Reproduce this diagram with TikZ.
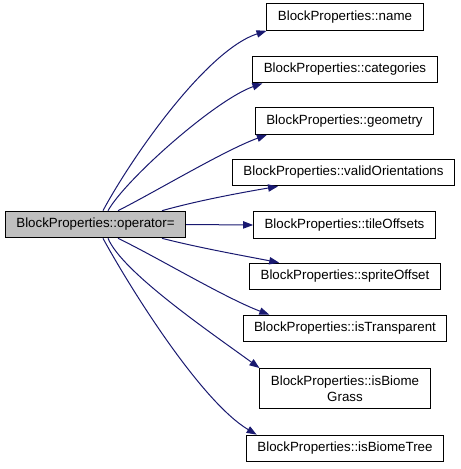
\documentclass[tikz,border=0pt]{standalone}
\usepackage{fontspec}
\setmainfont{Liberation Sans}
\usetikzlibrary{arrows.meta}
\definecolor{edgeblue}{HTML}{191970}
\definecolor{callerfill}{HTML}{BFBFBF}
\tikzset{
  fnbox/.style={draw=black,line width=0.75pt,fill=white,inner xsep=8.2pt,
    inner ysep=5.3pt,minimum height=20pt,align=center,
    font=\fontsize{10}{12}\selectfont},
  caller/.style={fnbox,fill=callerfill},
  callee/.style={fnbox},
  call/.style={-{Triangle[length=7.5pt,width=5.5pt]},draw=edgeblue,line width=0.75pt}
}

\begin{document}
\begin{tikzpicture}[x=0.75pt,y=-0.75pt]
\useasboundingbox (0,0) rectangle (461,469);

% Caller on the left
\node[caller] (op) at (95.5,224.5) {BlockProperties::operator=};

% Callees, stacked on the right
\node[callee] (name) at (345,17) {BlockProperties::name};
\node[callee] (categories) at (345,69.5) {BlockProperties::categories};
\node[callee] (geometry) at (344.5,121) {BlockProperties::geometry};
\node[callee] (validOrient) at (343.5,172.5) {BlockProperties::validOrientations};
\node[callee] (tileOffsets) at (344.5,225) {BlockProperties::tileOffsets};
\node[callee] (spriteOffset) at (345,276.5) {BlockProperties::spriteOffset};
\node[callee] (isTransparent) at (345,328.5) {BlockProperties::isTransparent};
\node[callee] (isBiomeGrass) at (345,388.5) {BlockProperties::isBiome\\Grass};
\node[callee] (isBiomeTree) at (345,448.5) {BlockProperties::isBiomeTree};

% Calls upward
\draw[call] ([xshift=5.6pt]op.north) .. controls (133,155) and (207,50) .. (name.south west);
\draw[call] ([xshift=9.4pt]op.north) .. controls (125,180) and (215,100) .. ([xshift=7.5pt]categories.south west);
\draw[call] ([xshift=16.9pt]op.north) .. controls (155,192) and (225,150) .. ([xshift=9pt]geometry.south west);
\draw[call] ([xshift=49.9pt]op.north) .. controls (200,200) and (245,192) .. ([xshift=34.5pt]validOrient.south west);

% Straight call
\draw[call] (op.east) -- (tileOffsets.west);

% Calls downward
\draw[call] ([xshift=49.9pt]op.south) .. controls (200,248) and (245,256) .. ([xshift=22.5pt]spriteOffset.north west);
\draw[call] ([xshift=16.9pt]op.south) .. controls (155,256) and (225,298) .. ([xshift=20pt]isTransparent.north west);
\draw[call] ([xshift=9.4pt]op.south) .. controls (122,272) and (210,332) .. (isBiomeGrass.north west);
\draw[call] ([xshift=5.6pt]op.south) .. controls (133,293) and (202,402) .. ([xshift=8pt]isBiomeTree.north west);

\end{tikzpicture}
\end{document}
